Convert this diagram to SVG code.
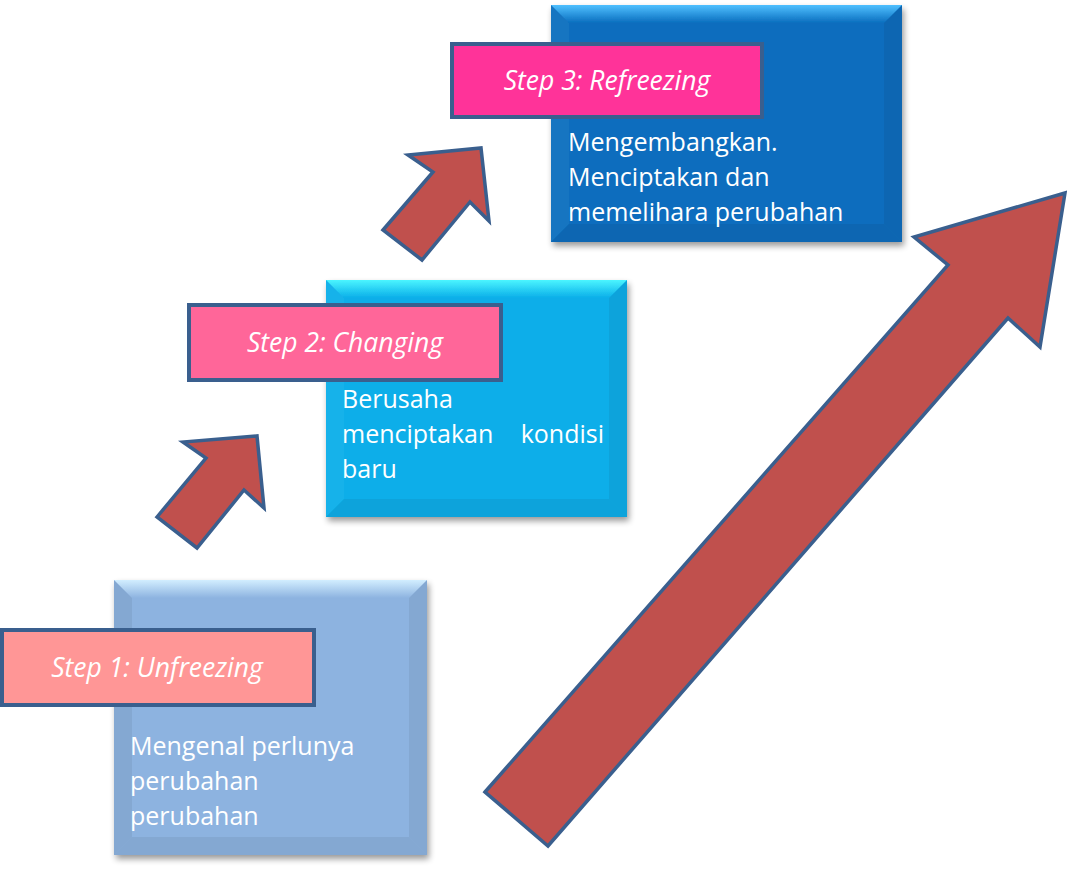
<svg xmlns="http://www.w3.org/2000/svg" width="1067" height="869" viewBox="0 0 1067 869">
<defs>
<filter id="sh" x="-10%" y="-10%" width="125%" height="125%">
<feGaussianBlur in="SourceAlpha" stdDeviation="3"/>
<feOffset dx="2" dy="4" result="b"/>
<feComponentTransfer><feFuncA type="linear" slope="0.4"/></feComponentTransfer>
<feMerge><feMergeNode/><feMergeNode in="SourceGraphic"/></feMerge>
</filter>
<linearGradient id="t3" x1="0" y1="0" x2="0" y2="1"><stop offset="0" stop-color="#4FC0FF"/><stop offset="1" stop-color="#0A6DBE"/></linearGradient>
<linearGradient id="t2" x1="0" y1="0" x2="0" y2="1"><stop offset="0" stop-color="#4BF5FF"/><stop offset="1" stop-color="#09AEE9"/></linearGradient>
<linearGradient id="t1" x1="0" y1="0" x2="0" y2="1"><stop offset="0" stop-color="#D2EEFF"/><stop offset="1" stop-color="#8DB3E0"/></linearGradient>
<style>
.arrow{fill:#C0504D;stroke:#3A5F8E;stroke-width:3.5;stroke-linejoin:miter}
.lab{stroke:#3A5F8E;stroke-width:4}
.lt{font-family:"Open Sans","Noto Sans",sans-serif;font-style:italic;font-size:26.5px;fill:#FFFFFF;text-anchor:middle}
.bt{font-family:"Open Sans","Noto Sans",sans-serif;font-size:25px;fill:#FFFFFF}
.dk{fill:#000000;opacity:0.06}
.lk{fill:#FFFFFF;opacity:0.06}
</style>
</defs>

<g id="node-box3" filter="url(#sh)">
<rect x="551" y="5" width="351" height="237" fill="#0A6DBE"/>
<polygon points="551,5 902,5 884,23 569,23" fill="url(#t3)"/>
<polygon points="551,5 569,23 569,224 551,242" class="lk"/>
<polygon points="902,5 884,23 884,224 902,242" class="dk"/>
<polygon points="551,242 569,224 884,224 902,242" class="dk"/>
</g>
<g id="node-box2" filter="url(#sh)">
<rect x="326" y="280" width="301" height="237" fill="#09AEE9"/>
<polygon points="326,280 627,280 609,298 344,298" fill="url(#t2)"/>
<polygon points="326,280 344,298 344,499 326,517" class="lk"/>
<polygon points="627,280 609,298 609,499 627,517" class="dk"/>
<polygon points="326,517 344,499 609,499 627,517" class="dk"/>
</g>
<g id="node-box1" filter="url(#sh)">
<rect x="114" y="580" width="313" height="275" fill="#8DB3E0"/>
<polygon points="114,580 427,580 409,598 132,598" fill="url(#t1)"/>
<polygon points="114,580 132,598 132,837 114,855" class="dk"/>
<polygon points="427,580 409,598 409,837 427,855" class="dk"/>
<polygon points="114,855 132,837 409,837 427,855" class="dk"/>
</g>

<g id="text-box3">
<text class="bt" x="568" y="151">Mengembangkan.</text>
<text class="bt" x="568" y="186">Menciptakan dan</text>
<text class="bt" x="568" y="221">memelihara perubahan</text>
</g>
<g id="text-box2">
<text class="bt" x="342" y="408">Berusaha</text>
<text class="bt" x="342" y="443">menciptakan</text>
<text class="bt" x="604" y="443" text-anchor="end">kondisi</text>
<text class="bt" x="342" y="478">baru</text>
</g>
<g id="text-box1">
<text class="bt" x="130" y="755">Mengenal perlunya</text>
<text class="bt" x="130" y="790">perubahan</text>
<text class="bt" x="130" y="825">perubahan</text>
</g>

<g id="node-label3">
<rect class="lab" x="452" y="44" width="310" height="73" fill="#FF3399"/>
<text class="lt" x="607" y="90">Step 3: Refreezing</text>
</g>
<g id="node-label2">
<rect class="lab" x="189" y="305" width="312" height="75" fill="#FF6699"/>
<text class="lt" x="345" y="352">Step 2: Changing</text>
</g>
<g id="node-label1">
<rect class="lab" x="2" y="630" width="312" height="75" fill="#FF9696"/>
<text class="lt" x="157" y="677">Step 1: Unfreezing</text>
</g>

<g id="connectors">
<polygon class="arrow" points="157,517 206,458 183,442 257,436 264,508 244,490 197,548"/>
<polygon class="arrow" points="383,230 433,172 408,155 481,148 489,221 470,202 422,260"/>
<polygon class="arrow" points="485,792 948,265 914,237 1065,193 1040,347 1008,318 548,846"/>
</g>
</svg>
